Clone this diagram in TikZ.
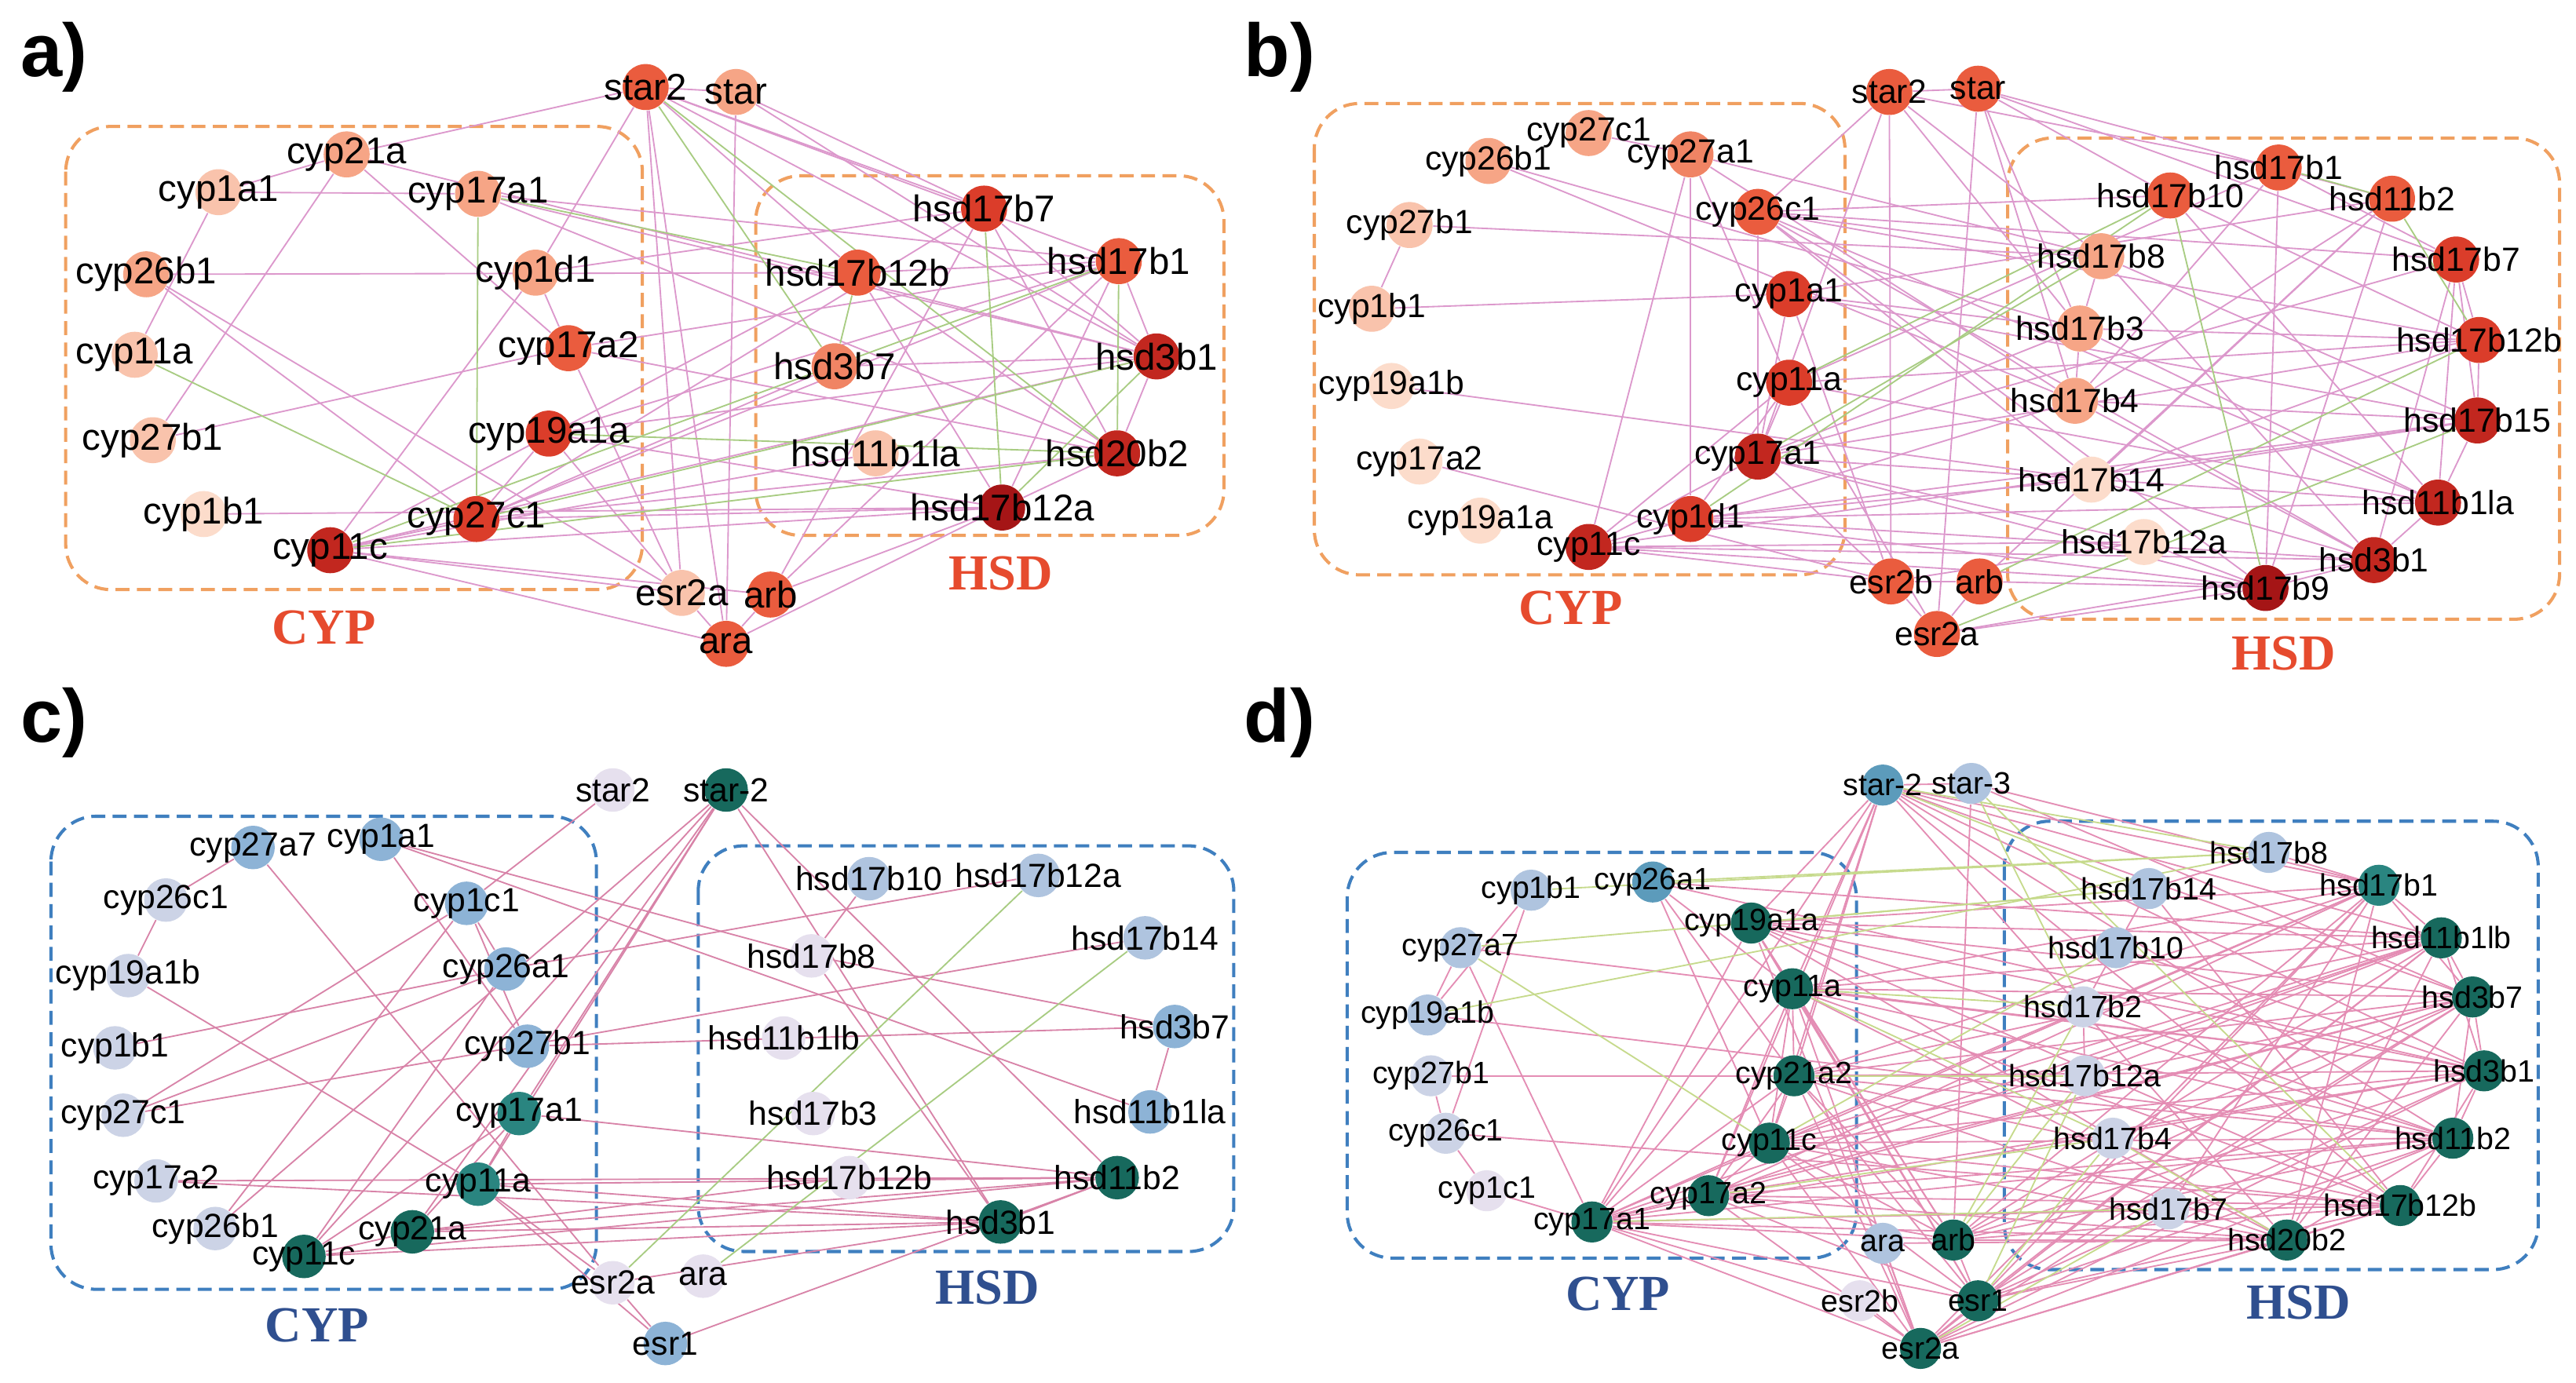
\documentclass[tikz,border=0pt]{standalone}
\usepackage{fontspec}
\setmainfont{Liberation Sans}
\newfontfamily\tmsfont{Liberation Serif}
\pgfdeclarelayer{bg}
\pgfdeclarelayer{fg}
\pgfsetlayers{bg,main,fg}
\definecolor{rA}{HTML}{FCDCCB}
\definecolor{rB}{HTML}{F9C3AC}
\definecolor{rC}{HTML}{F6A586}
\definecolor{rD}{HTML}{F08464}
\definecolor{rE}{HTML}{EA5C3E}
\definecolor{rF}{HTML}{DB3D2A}
\definecolor{rG}{HTML}{C2271F}
\definecolor{rH}{HTML}{A51516}
\definecolor{bA}{HTML}{E6E0EE}
\definecolor{bB}{HTML}{CCD3E6}
\definecolor{bC}{HTML}{AFC4DF}
\definecolor{bD}{HTML}{8DB3D6}
\definecolor{bE}{HTML}{5C9BBB}
\definecolor{tA}{HTML}{2A8580}
\definecolor{tB}{HTML}{17695D}
\definecolor{pkAB}{HTML}{DC98CC}
\definecolor{grAB}{HTML}{A8CC82}
\definecolor{pkC}{HTML}{D883A8}
\definecolor{pkD}{HTML}{E48DB4}
\definecolor{grD}{HTML}{C6DA8C}
\definecolor{boxO}{HTML}{F0A060}
\definecolor{boxB}{HTML}{3F7FBF}
\definecolor{txtO}{HTML}{E64B2E}
\definecolor{txtB}{HTML}{2F4F8F}
\tikzset{
  nd/.style={circle,draw=none,minimum size=5.6mm,inner sep=0pt},
  lb/.style={inner sep=0pt,font=\fontsize{12.5}{14}\selectfont},
  pk/.style={draw=pkAB,line width=0.5pt},
  gr/.style={draw=grAB,line width=0.5pt},
  pkc/.style={draw=pkC,line width=0.5pt},
  pkd/.style={draw=pkD,line width=0.5pt},
  grd/.style={draw=grD,line width=0.5pt},
  grpbox/.style={dashed,dash pattern=on 1.7mm off 0.9mm,line width=1.1pt,rounded corners=5.5mm},
  grplabel/.style={inner sep=0pt,font=\tmsfont\bfseries\fontsize{17.5}{20}\selectfont},
  panellabel/.style={inner sep=0pt,font=\bfseries\fontsize{26}{30}\selectfont}
}
\newcommand\gn[5]{\node[nd,fill=#5] (#1-#2) at (#3,#4) {};\begin{pgfonlayer}{fg}\node[lb] at (#3,#4) {#2};\end{pgfonlayer}}
\begin{document}
\begin{tikzpicture}[x=0.2mm,y=-0.2mm]
\begin{pgfonlayer}{bg}
\fill[white] (0,0) rectangle (1568,842);
\end{pgfonlayer}
\useasboundingbox (0,0) rectangle (1568,842);
% panel labels
\node[panellabel] (la) at (33,35) {a)};
\node[panellabel] (lb) at (779,35) {b)};
\node[panellabel] (lc) at (33,440) {c)};
\node[panellabel] (ld) at (779,440) {d)};
% ================= panel a =================
\begin{scope}[lb/.style={inner sep=0pt,font=\fontsize{12.9}{14}\selectfont}]
\begin{pgfonlayer}{bg}
\draw[grpbox,draw=boxO] (40,77) rectangle (391,359);
\draw[grpbox,draw=boxO] (460,107) rectangle (745,326);
\end{pgfonlayer}
\node[grplabel,text=txtO] (aCYP) at (197,382) {CYP};
\node[grplabel,text=txtO] (aHSD) at (609,349) {HSD};
\gn{a}{star2}{393}{53}{rE}
\gn{a}{star}{448}{56}{rC}
\gn{a}{cyp21a}{211}{94}{rC}
\gn{a}{cyp1a1}{133}{117}{rB}
\gn{a}{cyp17a1}{291}{118}{rC}
\gn{a}{cyp26b1}{89}{167}{rC}
\gn{a}{cyp1d1}{326}{166}{rC}
\gn{a}{cyp11a}{82}{216}{rB}
\gn{a}{cyp17a2}{346}{212}{rE}
\gn{a}{cyp27b1}{93}{268}{rB}
\gn{a}{cyp19a1a}{334}{264}{rF}
\gn{a}{cyp1b1}{124}{313}{rA}
\gn{a}{cyp27c1}{290}{316}{rF}
\gn{a}{cyp11c}{201}{335}{rG}
\gn{a}{hsd17b7}{599}{127}{rF}
\gn{a}{hsd17b12b}{522}{166}{rE}
\gn{a}{hsd17b1}{681}{159}{rE}
\gn{a}{hsd3b7}{508}{223}{rD}
\gn{a}{hsd3b1}{704}{217}{rG}
\gn{a}{hsd11b1la}{533}{276}{rB}
\gn{a}{hsd20b2}{680}{276}{rG}
\gn{a}{hsd17b12a}{610}{309}{rH}
\gn{a}{esr2a}{415}{361}{rB}
\gn{a}{arb}{469}{362}{rE}
\gn{a}{ara}{442}{392}{rE}
\begin{pgfonlayer}{bg}
\foreach \u/\v in {cyp1a1/cyp11a,cyp1a1/cyp21a,cyp1a1/cyp17a1,cyp21a/star2,cyp21a/cyp27b1,cyp21a/cyp17a2,cyp21a/hsd3b1,
 cyp17a1/hsd17b1,cyp17a1/hsd3b1,cyp17a1/hsd20b2,cyp26b1/hsd17b12b,cyp26b1/esr2a,cyp26b1/cyp27c1,cyp27b1/cyp17a2,
 cyp1b1/hsd17b12a,cyp1d1/star2,cyp11c/cyp1d1,cyp1d1/cyp17a2,cyp1d1/hsd17b7,cyp17a2/esr2a,cyp19a1a/esr2a,
 cyp27c1/hsd17b1,cyp27c1/hsd3b7,cyp27c1/hsd17b12a,cyp27c1/hsd20b2,cyp27c1/hsd17b7,cyp27c1/cyp11c,
 cyp11c/hsd3b1,cyp11c/hsd17b12a,cyp11c/hsd11b1la,cyp11c/arb,cyp11c/ara,cyp11c/esr2a,cyp11c/hsd17b12b,
 cyp19a1a/hsd3b1,cyp19a1a/hsd17b1,cyp19a1a/hsd17b12a,cyp19a1a/cyp27c1,star2/star,star2/hsd17b7,star2/hsd17b1,
 star2/hsd3b1,star2/hsd17b12b,star2/esr2a,star2/ara,star/ara,star/hsd17b7,star/hsd3b1,hsd17b7/hsd20b2,
 hsd17b7/hsd3b1,hsd17b7/arb,hsd17b12b/hsd17b1,hsd17b12b/hsd20b2,hsd17b12b/hsd17b12a,hsd17b1/hsd3b1,
 hsd17b1/hsd17b12a,hsd17b1/arb,hsd3b7/hsd3b1,hsd3b1/hsd20b2,hsd20b2/hsd17b12a,arb/hsd17b12a,arb/ara,
 ara/hsd17b12a,esr2a/ara,cyp17a2/hsd17b1,cyp17a2/hsd20b2}
  \draw[pk] (a-\u) -- (a-\v);
\foreach \u/\v in {cyp17a1/cyp27c1,cyp11a/cyp27c1,cyp11c/hsd17b1,cyp27c1/hsd3b1,cyp19a1a/hsd20b2,cyp11c/hsd20b2,
 star2/hsd20b2,star2/hsd3b7,hsd17b7/hsd17b12a,hsd17b12b/hsd3b7,hsd17b1/hsd20b2,hsd3b1/hsd17b12a,cyp17a1/hsd17b12b}
  \draw[gr] (a-\u) -- (a-\v);
\end{pgfonlayer}
\end{scope}
% ================= panel b =================
\begin{scope}[lb/.style={inner sep=0pt,font=\fontsize{11.6}{13}\selectfont}]
\begin{pgfonlayer}{bg}
\draw[grpbox,draw=boxO] (800,63) rectangle (1123,350);
\draw[grpbox,draw=boxO] (1222,84) rectangle (1558,377);
\end{pgfonlayer}
\node[grplabel,text=txtO] (bCYP) at (956,370) {CYP};
\node[grplabel,text=txtO] (bHSD) at (1390,398) {HSD};
\gn{b}{star2}{1150}{56}{rE}
\gn{b}{star}{1204}{54}{rE}
\gn{b}{cyp27c1}{967}{81}{rC}
\gn{b}{cyp26b1}{906}{98}{rC}
\gn{b}{cyp27a1}{1029}{94}{rD}
\gn{b}{cyp26c1}{1070}{129}{rE}
\gn{b}{cyp27b1}{858}{137}{rB}
\gn{b}{cyp1a1}{1089}{179}{rF}
\gn{b}{cyp1b1}{835}{188}{rB}
\gn{b}{cyp19a1b}{847}{235}{rA}
\gn{b}{cyp11a}{1089}{233}{rF}
\gn{b}{cyp17a1}{1070}{278}{rG}
\gn{b}{cyp17a2}{864}{281}{rA}
\gn{b}{cyp19a1a}{901}{317}{rA}
\gn{b}{cyp1d1}{1029}{316}{rF}
\gn{b}{cyp11c}{967}{333}{rG}
\gn{b}{esr2b}{1151}{354}{rE}
\gn{b}{esr2a}{1179}{386}{rE}
\gn{b}{arb}{1205}{354}{rE}
\gn{b}{hsd17b1}{1387}{102}{rE}
\gn{b}{hsd17b10}{1321}{119}{rE}
\gn{b}{hsd11b2}{1456}{121}{rE}
\gn{b}{hsd17b8}{1279}{156}{rC}
\gn{b}{hsd17b7}{1495}{158}{rF}
\gn{b}{hsd17b3}{1266}{200}{rC}
\gn{b}{hsd17b12b}{1509}{207}{rF}
\gn{b}{hsd17b4}{1263}{244}{rC}
\gn{b}{hsd17b15}{1508}{256}{rG}
\gn{b}{hsd17b14}{1273}{292}{rA}
\gn{b}{hsd11b1la}{1484}{306}{rG}
\gn{b}{hsd17b12a}{1305}{330}{rA}
\gn{b}{hsd3b1}{1445}{341}{rG}
\gn{b}{hsd17b9}{1379}{358}{rH}
\begin{pgfonlayer}{bg}
\foreach \u/\v in {cyp27b1/cyp1b1,cyp27b1/hsd17b8,cyp1b1/cyp1a1,cyp19a1b/hsd17b14,cyp17a2/esr2b,cyp26b1/hsd17b3,
 cyp26b1/hsd17b4,cyp27c1/cyp27a1,cyp27a1/cyp11c,cyp27a1/cyp1d1,cyp27a1/cyp11a,cyp27a1/hsd17b8,cyp27a1/hsd17b4,
 cyp26c1/star2,cyp26c1/cyp17a1,cyp26c1/hsd17b10,cyp26c1/hsd17b8,cyp26c1/hsd17b7,cyp26c1/hsd17b12b,cyp26c1/hsd11b1la,
 cyp26c1/hsd17b14,cyp26c1/hsd17b9,cyp26c1/hsd3b1,cyp1a1/cyp17a1,cyp1a1/esr2b,cyp1a1/hsd17b3,cyp1a1/hsd17b15,
 cyp1a1/hsd11b2,cyp11a/cyp11c,cyp11a/cyp1d1,cyp11a/cyp17a1,cyp11a/hsd17b12b,cyp11a/hsd17b1,cyp11a/hsd11b1la,
 cyp11a/esr2a,star2/cyp17a1,cyp11c/cyp1d1,cyp11c/cyp17a1,cyp11c/hsd17b12a,cyp11c/hsd3b1,cyp11c/hsd17b15,
 cyp11c/esr2b,cyp11c/hsd17b9,cyp1d1/hsd17b14,cyp1d1/hsd17b15,cyp1d1/hsd17b4,cyp1d1/hsd3b1,cyp1d1/hsd17b9,
 cyp1d1/hsd11b1la,cyp17a1/hsd17b3,cyp17a1/hsd17b12b,cyp17a1/hsd17b7,cyp17a1/hsd11b1la,cyp17a1/hsd17b12a,
 cyp17a1/esr2b,cyp17a1/hsd17b9,star2/star,star2/hsd17b1,star2/hsd17b8,star2/hsd17b3,star2/esr2b,star/hsd11b2,
 star/hsd17b7,star/hsd17b3,star/hsd17b4,star/esr2a,star/hsd17b10,hsd17b1/hsd17b9,hsd17b1/hsd17b7,hsd17b1/hsd17b4,
 hsd17b10/hsd17b12b,hsd17b10/hsd11b1la,hsd11b2/hsd17b9,hsd11b2/hsd17b4,hsd11b2/hsd17b14,hsd17b8/hsd17b3,
 hsd17b8/hsd3b1,hsd17b8/hsd17b15,hsd17b3/hsd17b4,hsd17b3/hsd17b12b,hsd17b3/hsd11b1la,hsd17b4/hsd17b15,
 hsd17b4/hsd3b1,hsd17b7/hsd17b12b,hsd17b7/hsd17b15,hsd17b7/hsd11b1la,hsd17b7/hsd3b1,hsd17b12b/hsd17b15,
 hsd17b12b/hsd17b14,hsd17b15/hsd11b1la,hsd17b15/hsd17b14,hsd11b1la/hsd3b1,hsd17b14/hsd3b1,hsd17b12a/hsd17b9,
 hsd3b1/hsd17b9,hsd17b9/esr2a,arb/esr2a,arb/esr2b,arb/hsd17b9,esr2b/esr2a,esr2b/hsd17b12a,esr2a/hsd3b1,arb/hsd11b2}
  \draw[pk] (b-\u) -- (b-\v);
\foreach \u/\v in {hsd17b1/hsd11b2,hsd17b10/hsd17b9,hsd11b2/hsd17b12b,cyp1d1/hsd17b10,cyp17a1/hsd17b8,
 cyp11a/hsd17b10,arb/hsd17b12b,esr2a/hsd17b15}
  \draw[gr] (b-\u) -- (b-\v);
\end{pgfonlayer}
\end{scope}
% ================= panel c =================
\begin{scope}[lb/.style={inner sep=0pt,font=\fontsize{11.6}{13}\selectfont},nd/.style={circle,draw=none,minimum size=5.3mm,inner sep=0pt}]
\begin{pgfonlayer}{bg}
\draw[grpbox,draw=boxB] (31,497) rectangle (363,785);
\draw[grpbox,draw=boxB] (425,515) rectangle (751,762);
\end{pgfonlayer}
\node[grplabel,text=txtB] (cCYP) at (193,807) {CYP};
\node[grplabel,text=txtB] (cHSD) at (601,784) {HSD};
\gn{c}{star2}{373}{481}{bA}
\gn{c}{star-2}{442}{481}{tB}
\gn{c}{cyp27a7}{154}{516}{bD}
\gn{c}{cyp1a1}{232}{511}{bD}
\gn{c}{cyp26c1}{101}{548}{bB}
\gn{c}{cyp1c1}{284}{550}{bD}
\gn{c}{cyp19a1b}{78}{594}{bB}
\gn{c}{cyp26a1}{308}{590}{bD}
\gn{c}{cyp1b1}{70}{638}{bB}
\gn{c}{cyp27b1}{321}{637}{bD}
\gn{c}{cyp27c1}{75}{679}{bB}
\gn{c}{cyp17a1}{316}{678}{tA}
\gn{c}{cyp17a2}{95}{719}{bB}
\gn{c}{cyp11a}{291}{721}{tA}
\gn{c}{cyp26b1}{131}{748}{bB}
\gn{c}{cyp21a}{251}{750}{tB}
\gn{c}{cyp11c}{185}{765}{tB}
\gn{c}{esr2a}{373}{781}{bA}
\gn{c}{ara}{428}{777}{bA}
\gn{c}{esr1}{405}{818}{bD}
\gn{c}{hsd17b10}{529}{535}{bC}
\gn{c}{hsd17b12a}{632}{533}{bC}
\gn{c}{hsd17b8}{494}{582}{bA}
\gn{c}{hsd17b14}{697}{571}{bC}
\gn{c}{hsd3b7}{715}{625}{bD}
\gn{c}{hsd11b1lb}{477}{632}{bA}
\gn{c}{hsd11b1la}{700}{677}{bD}
\gn{c}{hsd17b3}{495}{678}{bA}
\gn{c}{hsd11b2}{680}{717}{tB}
\gn{c}{hsd17b12b}{517}{717}{bA}
\gn{c}{hsd3b1}{609}{744}{tB}
\begin{pgfonlayer}{bg}
\foreach \u/\v in {cyp27a7/cyp26c1,cyp27a7/esr2a,cyp1a1/cyp27b1,cyp1a1/hsd17b8,cyp1a1/hsd11b1la,cyp26c1/cyp19a1b,
 cyp19a1b/cyp11a,cyp1c1/cyp26a1,cyp1c1/cyp27c1,cyp1c1/cyp26b1,cyp1c1/cyp27b1,cyp26a1/cyp1b1,cyp26a1/cyp11c,
 cyp26a1/hsd17b12a,cyp26a1/cyp27c1,cyp27b1/hsd3b7,cyp17a1/hsd11b2,cyp17a1/cyp11a,cyp17a1/cyp21a,cyp17a1/cyp11c,
 cyp17a2/hsd11b2,cyp17a2/hsd3b1,cyp11a/hsd11b2,cyp11a/hsd3b1,cyp11a/esr2a,cyp11a/esr1,cyp21a/hsd11b2,cyp21a/hsd3b1,
 cyp21a/hsd17b12b,cyp11c/cyp21a,cyp11c/hsd3b1,cyp11c/hsd11b2,star-2/cyp11c,star-2/cyp21a,star-2/cyp11a,
 star-2/cyp17a1,star-2/cyp26b1,star-2/hsd3b1,star-2/hsd11b2,star2/cyp1c1,esr2a/esr1,esr2a/hsd3b1,esr1/hsd11b2,
 hsd17b10/hsd17b8,hsd17b8/hsd3b7,hsd17b8/hsd3b1,hsd3b7/hsd11b1la,hsd11b2/hsd3b1,cyp27c1/hsd17b14}
  \draw[pkc] (c-\u) -- (c-\v);
\foreach \u/\v in {hsd17b12a/esr2a,hsd17b14/ara}
  \draw[gr] (c-\u) -- (c-\v);
\end{pgfonlayer}
\end{scope}
% ================= panel d =================
\begin{scope}[lb/.style={inner sep=0pt,font=\fontsize{10.7}{12}\selectfont},nd/.style={circle,draw=none,minimum size=5mm,inner sep=0pt}]
\begin{pgfonlayer}{bg}
\draw[grpbox,draw=boxB] (820,519) rectangle (1130,766);
\draw[grpbox,draw=boxB] (1220,500) rectangle (1545,773);
\end{pgfonlayer}
\node[grplabel,text=txtB] (dCYP) at (985,788) {CYP};
\node[grplabel,text=txtB] (dHSD) at (1399,793) {HSD};
\gn{d}{star-2}{1146}{478}{bE}
\gn{d}{star-3}{1200}{477}{bC}
\gn{d}{cyp1b1}{932}{542}{bC}
\gn{d}{cyp26a1}{1006}{537}{bE}
\gn{d}{cyp27a7}{889}{577}{bC}
\gn{d}{cyp19a1a}{1066}{562}{tB}
\gn{d}{cyp11a}{1091}{602}{tB}
\gn{d}{cyp19a1b}{869}{618}{bC}
\gn{d}{cyp27b1}{871}{655}{bB}
\gn{d}{cyp21a2}{1092}{655}{tB}
\gn{d}{cyp26c1}{880}{690}{bB}
\gn{d}{cyp11c}{1077}{696}{tB}
\gn{d}{cyp1c1}{905}{725}{bA}
\gn{d}{cyp17a2}{1040}{728}{tB}
\gn{d}{cyp17a1}{969}{744}{tB}
\gn{d}{ara}{1146}{757}{bC}
\gn{d}{esr2b}{1132}{792}{bA}
\gn{d}{esr2a}{1169}{821}{tB}
\gn{d}{arb}{1189}{755}{tB}
\gn{d}{esr1}{1204}{792}{tB}
\gn{d}{hsd17b8}{1381}{519}{bC}
\gn{d}{hsd17b14}{1308}{541}{bC}
\gn{d}{hsd17b1}{1448}{539}{tA}
\gn{d}{hsd11b1lb}{1486}{571}{tB}
\gn{d}{hsd17b10}{1288}{577}{bC}
\gn{d}{hsd3b7}{1505}{607}{tB}
\gn{d}{hsd17b2}{1268}{613}{bB}
\gn{d}{hsd17b12a}{1269}{655}{bB}
\gn{d}{hsd3b1}{1512}{652}{tB}
\gn{d}{hsd17b4}{1286}{693}{bB}
\gn{d}{hsd11b2}{1493}{693}{tB}
\gn{d}{hsd17b12b}{1461}{734}{tB}
\gn{d}{hsd17b7}{1320}{736}{bB}
\gn{d}{hsd20b2}{1392}{755}{tB}
\begin{pgfonlayer}{bg}
\foreach \u in {cyp19a1a,cyp11a,cyp21a2,cyp11c,cyp17a2,cyp17a1,esr2a,esr1,arb,star-2}
  \foreach \v in {hsd17b1,hsd11b1lb,hsd3b7,hsd3b1,hsd11b2,hsd17b12b,hsd20b2}
    \draw[pkd] (d-\u) -- (d-\v);
\foreach \u in {cyp19a1a,cyp11a,cyp21a2,cyp11c,cyp17a2,cyp17a1}
  \foreach \v in {esr2a,esr1,arb,star-2}
    \draw[pkd] (d-\u) -- (d-\v);
\foreach \u/\v in {cyp19a1a/cyp11a,cyp11a/cyp21a2,cyp21a2/cyp11c,cyp11c/cyp17a2,cyp17a2/cyp17a1,cyp11a/cyp11c,
 cyp11a/cyp17a1,cyp21a2/cyp17a1,cyp19a1a/cyp17a1,cyp11a/cyp17a2,cyp21a2/cyp17a2,cyp11c/cyp17a1,
 hsd17b1/hsd11b1lb,hsd11b1lb/hsd3b7,hsd3b7/hsd3b1,hsd3b1/hsd11b2,hsd11b2/hsd17b12b,hsd17b12b/hsd20b2,
 hsd17b1/hsd3b7,hsd11b1lb/hsd3b1,hsd3b7/hsd11b2,hsd3b1/hsd17b12b,hsd11b2/hsd20b2,hsd17b1/hsd20b2,
 hsd11b1lb/hsd20b2,hsd3b7/hsd20b2,cyp26a1/cyp11a,cyp26a1/cyp21a2,cyp26a1/cyp11c,cyp26a1/hsd3b1,
 cyp26a1/hsd11b1lb,cyp1b1/cyp26c1,cyp27a7/cyp19a1b,cyp1b1/cyp19a1b,cyp27b1/cyp26c1,cyp26c1/cyp1c1,
 cyp27a7/cyp17a1,star-2/star-3,star-3/arb,star-3/hsd17b1,star-3/hsd3b7,hsd17b14/hsd17b10,hsd17b10/hsd17b2,
 hsd17b2/hsd17b12a,ara/esr2a,esr2b/esr2a,esr2b/cyp17a1,cyp27b1/cyp21a2,cyp19a1b/hsd11b2,cyp27a7/hsd3b1,
 cyp1c1/cyp17a1,esr2a/esr1,arb/esr1,hsd17b8/hsd17b14,hsd17b8/hsd17b1,hsd17b14/hsd17b12b,hsd17b10/hsd3b1,
 hsd17b2/hsd11b2,hsd17b12a/hsd11b1lb,hsd17b4/hsd3b7,hsd17b7/hsd17b1,ara/hsd20b2,cyp26c1/hsd17b12b}
  \draw[pkd] (d-\u) -- (d-\v);
\foreach \u/\v in {cyp19a1a/hsd17b14,cyp11a/hsd17b2,cyp21a2/hsd17b12a,cyp17a2/hsd17b4,cyp17a1/hsd17b7,
 cyp11c/hsd17b10,star-2/hsd17b8,star-2/hsd17b14,esr2a/hsd17b7,esr1/hsd17b4,arb/hsd17b2,hsd20b2/hsd17b4,
 cyp19a1b/hsd17b8,cyp27a7/hsd17b14,cyp1b1/hsd17b8,star-3/hsd17b2,hsd17b12a/arb,hsd17b4/cyp11a,
 cyp26a1/hsd17b8,cyp27a7/cyp11c,star-3/hsd17b12b,esr1/hsd17b12a}
  \draw[grd] (d-\u) -- (d-\v);
\end{pgfonlayer}
\end{scope}
\end{tikzpicture}
\end{document}
